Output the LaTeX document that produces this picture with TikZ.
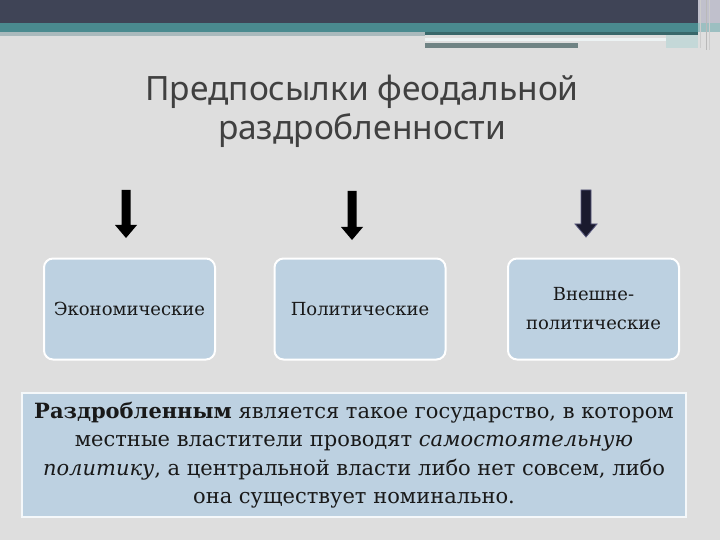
\documentclass[tikz,border=0pt]{standalone}
\usepackage{fontspec}
\setmainfont{DejaVu Serif}
\newfontfamily\titlefont{Noto Sans}
\definecolor{bg}{HTML}{DEDEDE}
\definecolor{topdark}{HTML}{3F4456}
\definecolor{topright}{HTML}{C0C0CC}
\definecolor{teal}{HTML}{4A8A8F}
\definecolor{lineA}{HTML}{A9B9BC}
\definecolor{lineB}{HTML}{C4D8D8}
\definecolor{boxfill}{HTML}{BDD1E1}
\definecolor{titlecol}{HTML}{404040}
\definecolor{navy}{HTML}{1A1A2E}
\definecolor{navyedge}{HTML}{5A5A80}
\tikzset{
  catbox/.style={draw=white, line width=2pt, fill=boxfill, rounded corners=9pt,
    minimum width=171pt, minimum height=101pt, align=center,
    font=\fontsize{18}{29}\selectfont, text=black!90, inner sep=0pt},
  defbox/.style={draw=white!85!boxfill, line width=1.5pt, fill=boxfill,
    minimum width=664pt, minimum height=124pt, align=center,
    font=\fontsize{21}{28.5}\selectfont, text=black!90, inner sep=0pt},
  downarrow/.style={fill=black},
}
\begin{document}
\begin{tikzpicture}[x=1pt,y=-1pt]
\useasboundingbox (0,0) rectangle (720,540);
\fill[bg] (0,0) rectangle (720,540);
% top decoration
\fill[topdark] (0,0) rectangle (698,23);
\fill[topright] (698,0) rectangle (720,23);
\fill[teal] (0,23) rectangle (698,32);
\fill[teal!55!white] (698,23) rectangle (720,32);
\fill[lineA] (0,32) rectangle (425,36);
\fill[teal!75!black] (425,32) rectangle (698,35);
\fill[white!90!teal] (425,38) rectangle (666,41);
\fill[lineB] (666,35) rectangle (698,48);
\fill[gray!70!teal] (425,43) rectangle (578,48);
\draw[gray!40, line width=0.8pt] (700,0) -- (700,48);
\draw[gray!55, line width=0.8pt] (706,0) -- (706,50);
\draw[gray!40, line width=0.8pt] (709,0) -- (709,50);
% title
\node[font=\titlefont\fontsize{33.5}{39}\selectfont, text=titlecol, align=center] (title) at (362,111)
  {Предпосылки феодальной\\раздробленности};
% arrows
\coordinate (a1) at (126,190);
\coordinate (a2) at (352,191);
\coordinate (a3) at (586,190);
\fill[downarrow] (a1) ++(-4.5,0) -- ++(9,0) -- ++(0,35) -- ++(6.5,0) -- ++(-11,13) -- ++(-11,-13) -- ++(6.5,0) -- cycle;
\fill[downarrow] (a2) ++(-4.5,0) -- ++(9,0) -- ++(0,36) -- ++(6.5,0) -- ++(-11,13) -- ++(-11,-13) -- ++(6.5,0) -- cycle;
\filldraw[fill=navy, draw=navyedge, line width=0.8pt] (a3) ++(-5,0) -- ++(10,0) -- ++(0,34) -- ++(6,0) -- ++(-11,13) -- ++(-11,-13) -- ++(6,0) -- cycle;
% category boxes
\node[catbox] (econ) at (129.5,309) {Экономические};
\node[catbox] (polit) at (360,309) {Политические};
\node[catbox] (ext) at (593.5,309) {Внешне-\\политические};
% definition box
\node[defbox] (def) at (354,455)
  {\textbf{Раздробленным} является такое государство, в котором\\
   местные властители проводят \textit{самостоятельную}\\
   \textit{политику}, а центральной власти либо нет совсем, либо\\
   она существует номинально.};
\end{tikzpicture}
\end{document}
